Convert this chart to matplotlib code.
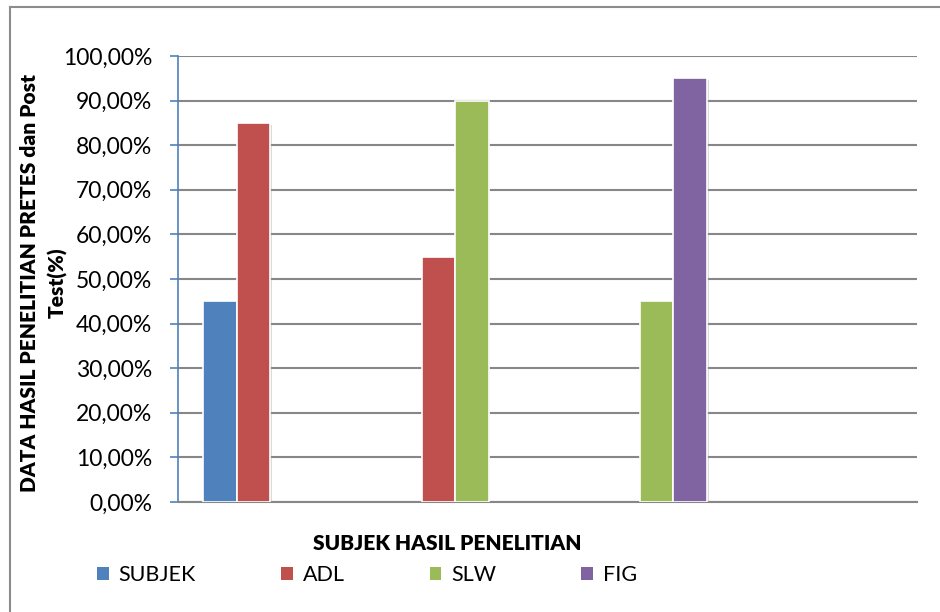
import numpy as np
import matplotlib
matplotlib.use("Agg")
import matplotlib.pyplot as plt
from matplotlib.lines import Line2D
from matplotlib import patheffects as pe
from matplotlib.ticker import FuncFormatter

plt.rcParams['font.family'] = ['Lato', 'DejaVu Sans']

# Four category slots on the x axis (labels are blank); the last slot is empty
categories = ["", "", "", ""]
series_names = ["SUBJEK", "ADL", "SLW", "FIG"]
subjek = [45.0, np.nan, np.nan, np.nan]
adl = [85.0, 55.0, np.nan, np.nan]
slw = [np.nan, 90.0, 45.0, np.nan]
fig_vals = [np.nan, np.nan, 95.0, np.nan]
colors = ["#4F81BD", "#C0504D", "#9BBB59", "#8064A2"]
y_ticks = [0, 10, 20, 30, 40, 50, 60, 70, 80, 90, 100]

fig = plt.figure(figsize=(9.4, 6.12), dpi=100)
ax = fig.add_axes([178 / 940, 1 - 502 / 612, (917 - 178) / 940, (502 - 56) / 612])

x = np.arange(len(categories))
width = 1 / 5.5
shadow = [pe.SimplePatchShadow(offset=(1.2, -1.2), shadow_rgbFace="#999999", alpha=0.35), pe.Normal()]
for i, (vals, col, name) in enumerate(zip([subjek, adl, slw, fig_vals], colors, series_names)):
    v = np.array(vals, dtype=float)
    keep = ~np.isnan(v)
    bars = ax.bar(x[keep] + (i - 1.5) * width, v[keep], width=width, color=col,
                  edgecolor="white", linewidth=1.2, label=name, zorder=3)
    for b in bars:
        b.set_path_effects(shadow)

ax.set_xlim(-0.5, len(categories) - 0.5)
ax.set_ylim(0, 100)
ax.set_yticks(y_ticks)
ax.yaxis.set_major_formatter(FuncFormatter(lambda v, p: f"{v:.2f}".replace(".", ",") + "%"))
ax.set_xticks([])
ax.grid(axis="y", color="#878787", linewidth=1.5, zorder=0)
ax.set_axisbelow(True)

for s in ["top", "right"]:
    ax.spines[s].set_visible(False)
ax.spines["left"].set_color("#4F81BD")
ax.spines["left"].set_linewidth(1.2)
ax.spines["bottom"].set_color("#878787")
ax.spines["bottom"].set_linewidth(1.5)
ax.tick_params(axis="y", direction="out", length=5.5, width=1.2, color="#4F81BD",
               labelsize=16.5, pad=13, labelcolor="black")

fig.text(30 / 940, 1 - 283 / 612, "DATA HASIL PENELITIAN PRETES dan Post",
         rotation=90, ha="center", va="center", fontsize=15, fontweight="heavy")
fig.text(58 / 940, 1 - 283 / 612, "Test(%)",
         rotation=90, ha="center", va="center", fontsize=15, fontweight="heavy")
fig.text(447 / 940, 1 - 543 / 612, "SUBJEK HASIL PENELITIAN",
         ha="center", va="center", fontsize=15, fontweight="heavy")

handles, labels = ax.get_legend_handles_labels()
leg = fig.legend(handles, labels, ncol=4, loc="center left",
                 bbox_to_anchor=(97 / 940, 1 - 575 / 612), frameon=False,
                 fontsize=15.5, handlelength=0.55, handleheight=0.55,
                 handletextpad=0.45, columnspacing=3.95, borderpad=0, borderaxespad=0)
for h in leg.legend_handles:
    h.set_path_effects([])
    h.set_linewidth(0)

# outer chart border (left and top edges visible)
fig.add_artist(Line2D([10 / 940, 10 / 940], [1 - 7 / 612, -0.05], color="#8C8C8C", linewidth=1.5))
fig.add_artist(Line2D([10 / 940, 1.05], [1 - 7 / 612, 1 - 7 / 612], color="#8C8C8C", linewidth=1.5))

fig.savefig("out.png", dpi=100)
